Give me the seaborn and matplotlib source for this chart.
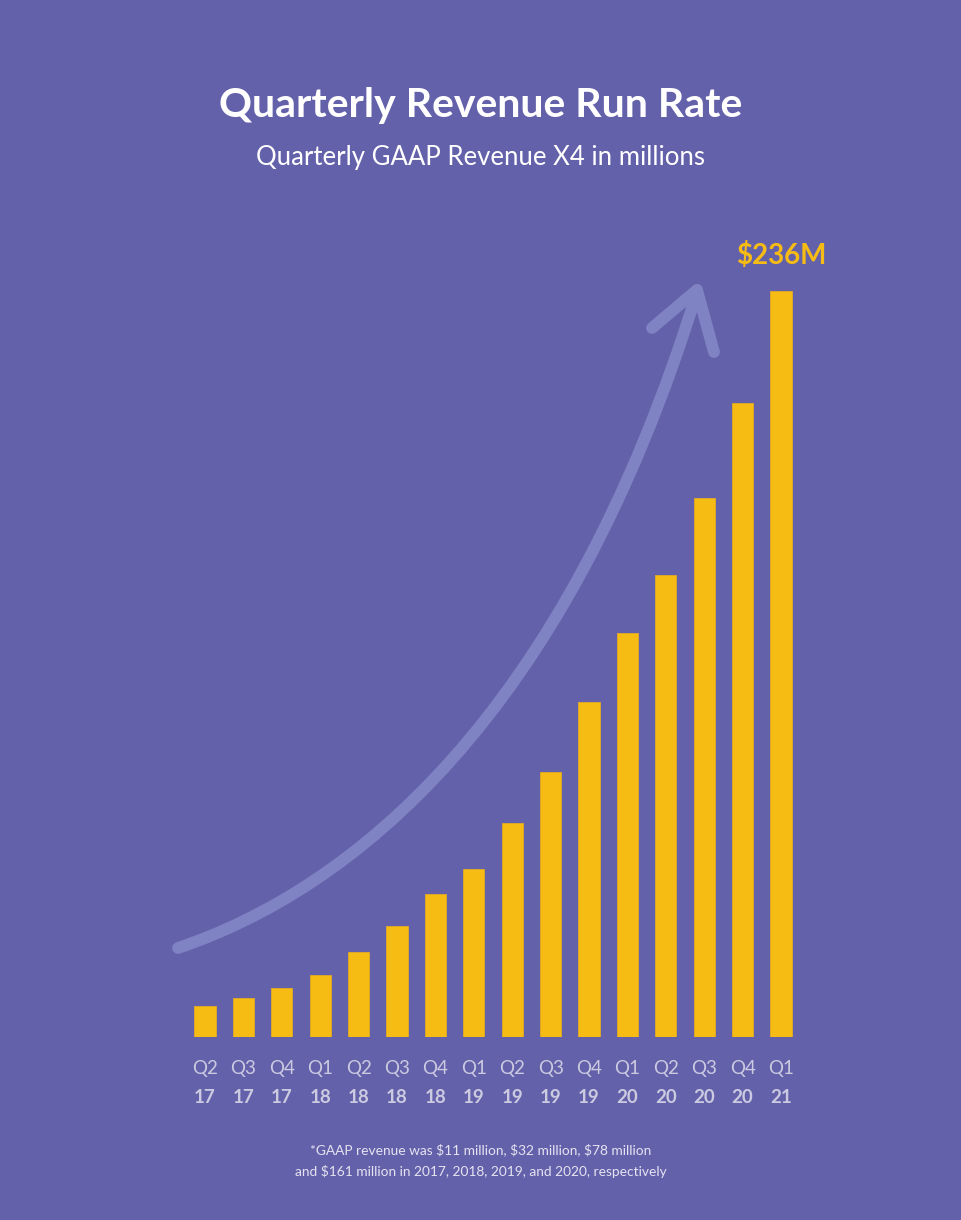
import pandas as pd
import seaborn as sns
import matplotlib.pyplot as plt
from matplotlib.path import Path
from matplotlib.patches import PathPatch
from matplotlib.lines import Line2D
import matplotlib.transforms as mtransforms

# data (run rate, $M)
quarters = ["Q2", "Q3", "Q4", "Q1", "Q2", "Q3", "Q4", "Q1",
            "Q2", "Q3", "Q4", "Q1", "Q2", "Q3", "Q4", "Q1"]
years = ["17", "17", "17", "18", "18", "18", "18", "19",
         "19", "19", "19", "20", "20", "20", "20", "21"]
run_rate = [9.8, 12.3, 15.5, 19.6, 26.9, 35.1, 45.2, 53.1,
            67.7, 83.8, 106.0, 127.8, 146.2, 170.5, 200.6, 236.0]

BG = "#6461AB"
BAR = "#F7BC14"
ARROW = "#7F82C3"
TICK = "#CBCAE0"

df = pd.DataFrame({"period": [q + " " + y for q, y in zip(quarters, years)],
                   "rate": run_rate})

sns.set_style("white")
plt.rcParams["font.family"] = ["Lato", "DejaVu Sans"]

W, H = 962, 1220
fig = plt.figure(figsize=(W / 100, H / 100), dpi=100)
fig.patch.set_facecolor(BG)

ax = fig.add_axes([185.8 / W, 1 - 1037 / H, 614.4 / W, 746 / H])
ax.set_facecolor(BG)
sns.barplot(data=df, x="period", y="rate", color=BAR, width=0.55,
            saturation=1, edgecolor="#E3AA22", linewidth=0.6, ax=ax)
ax.set_xlim(-0.5, len(df) - 0.5)
ax.set_ylim(0, max(run_rate))
sns.despine(ax=ax, left=True, bottom=True)
ax.set_yticks([])
ax.set_xlabel("")
ax.set_ylabel("")
ax.set_xticks(range(len(df)))
ax.set_xticklabels(quarters, color=TICK, fontsize=13.5)
ax.tick_params(axis="x", length=0, pad=23)
for lbl in ax.get_xticklabels():
    lbl.set_va("center")

# bold year under each quarter label
trans = mtransforms.blended_transform_factory(ax.transData, ax.transAxes)
for i, y in enumerate(years):
    ax.text(i, -0.081, y, transform=trans, ha="center", va="center",
            color=TICK, fontsize=13.5, fontweight="bold")

# last value label
ax.text(len(df) - 1, max(run_rate), f"${run_rate[-1]:.0f}M",
        ha="center", va="bottom", color=BAR, fontsize=20,
        fontweight="bold", clip_on=False,
        transform=ax.transData + mtransforms.ScaledTranslation(0.0, 0.22, fig.dpi_scale_trans))

# decorative growth arrow (pixel coords -> figure fraction)
def px(x, y):
    return (x / W, 1 - y / H)

curve = Path([px(178, 948), px(350, 890), px(565, 720), px(697, 292)],
             [Path.MOVETO, Path.CURVE4, Path.CURVE4, Path.CURVE4])
fig.add_artist(PathPatch(curve, transform=fig.transFigure, fill=False,
                         edgecolor=ARROW, lw=8.5, capstyle="round"))
for end in [(652, 328), (714, 352)]:
    p0, p1 = px(697, 290), px(*end)
    fig.add_artist(Line2D([p0[0], p1[0]], [p0[1], p1[1]],
                          transform=fig.transFigure, color=ARROW, lw=8.5,
                          solid_capstyle="round"))

# titles and footnote
fig.text(0.5, 1 - 105 / H, "Quarterly Revenue Run Rate", ha="center",
         va="center", color="white", fontsize=29.5, fontweight="bold")
fig.text(0.5, 1 - 157 / H, "Quarterly GAAP Revenue X4 in millions",
         ha="center", va="center", color="white", fontsize=18.5,
         fontweight="normal")
fig.text(0.5, 1 - 1150 / H,
         "*GAAP revenue was $11 million, $32 million, $78 million",
         ha="center", va="center", color="#E4E3F0", fontsize=9.9)
fig.text(0.5, 1 - 1172 / H,
         "and $161 million in 2017, 2018, 2019, and 2020, respectively",
         ha="center", va="center", color="#E4E3F0", fontsize=9.9)

fig.savefig("out.png", dpi=100, facecolor=BG)
